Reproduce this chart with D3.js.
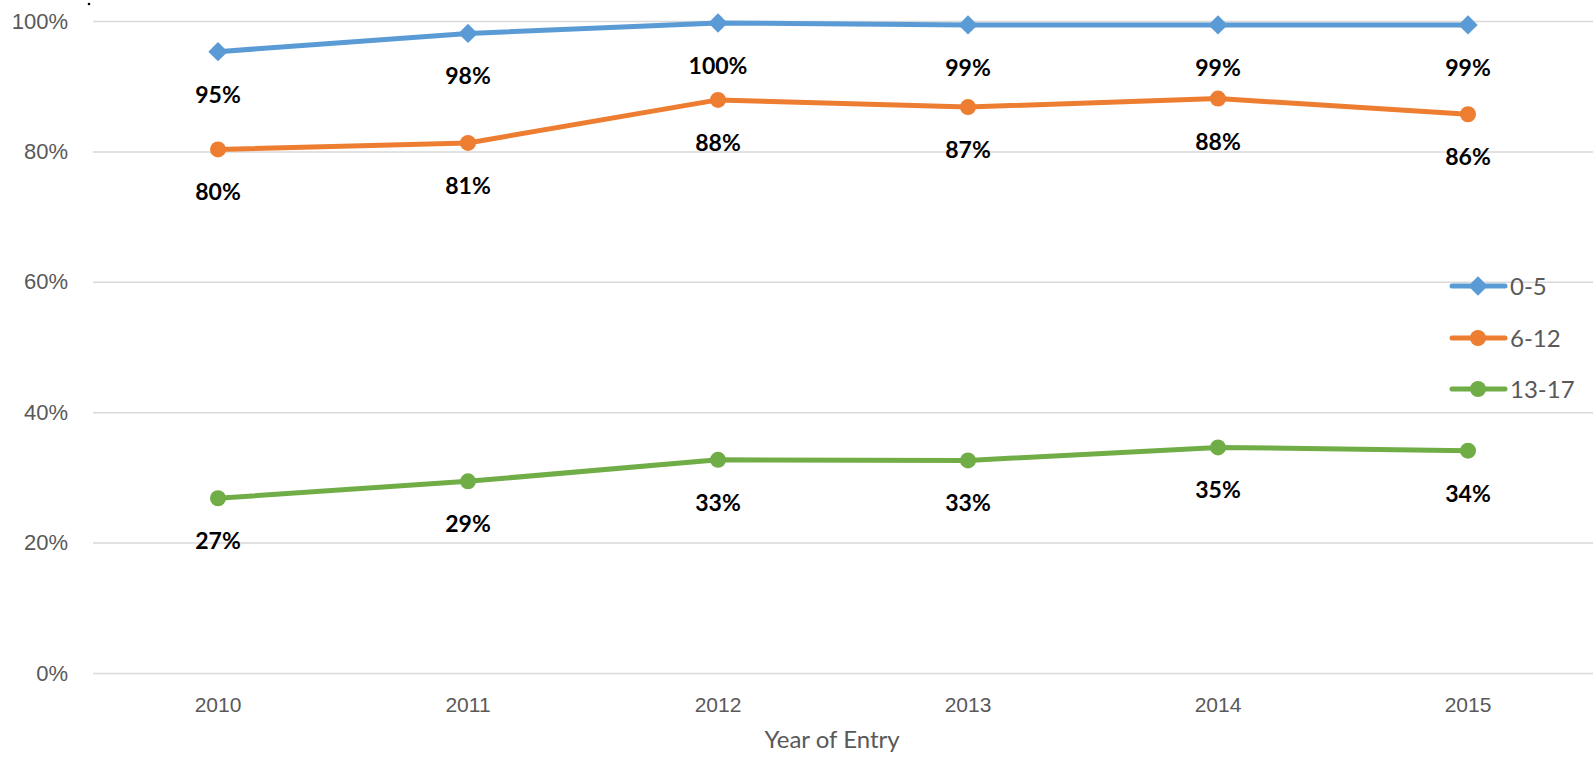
<!DOCTYPE html>
<html>
<head>
<meta charset="utf-8">
<script src="https://cdn.jsdelivr.net/npm/d3@7"></script>
<style>
  body { margin: 0; background: #fff; }
  svg { display: block; font-family: Lato, "Open Sans", sans-serif; }
</style>
</head>
<body>
<svg id="chart"></svg>
<script>
// data
const years = ["2010", "2011", "2012", "2013", "2014", "2015"];
const age0to5 = [0.953, 0.981, 0.997, 0.994, 0.994, 0.994];
const age6to12 = [0.803, 0.813, 0.879, 0.868, 0.881, 0.857];
const age13to17 = [0.268, 0.294, 0.327, 0.326, 0.346, 0.341];
const seriesNames = ["0-5", "6-12", "13-17"];
const seriesColors = ["#5B9BD5", "#ED7D31", "#70AD47"];
const yTicks = [0, 0.2, 0.4, 0.6, 0.8, 1.0];

const width = 1594, height = 761;
const margin = {top: 21, right: 1, bottom: 88, left: 93};

const svg = d3.select("#chart")
  .attr("width", width)
  .attr("height", height);

const x = d3.scaleBand()
  .domain(years)
  .range([margin.left, width - margin.right]);
const y = d3.scaleLinear()
  .domain([0, 1])
  .range([height - margin.bottom, margin.top]);

const series = [age0to5, age6to12, age13to17].map((vals, i) => ({
  name: seriesNames[i],
  color: seriesColors[i],
  values: vals.map((v, j) => ({year: years[j], value: v}))
}));

// gridlines + y labels
const yAxis = svg.append("g")
  .attr("transform", `translate(${margin.left},0)`)
  .call(d3.axisLeft(y).tickValues(yTicks).tickFormat(d3.format(".0%"))
    .tickSize(-(width - margin.left - margin.right)).tickPadding(25));
yAxis.select(".domain").remove();
yAxis.selectAll(".tick line").attr("stroke", "#d9d9d9").attr("stroke-width", 1.5);
yAxis.selectAll(".tick text")
  .attr("fill", "#595959")
  .style("font-size", "22px");

// x labels
const xAxis = svg.append("g")
  .attr("transform", `translate(0,${height - margin.bottom})`)
  .call(d3.axisBottom(x).tickSize(0).tickPadding(24));
xAxis.select(".domain").remove();
xAxis.selectAll(".tick text")
  .attr("fill", "#595959")
  .style("font-size", "21px");

svg.append("text")
  .attr("x", 832)
  .attr("y", 748)
  .attr("text-anchor", "middle")
  .attr("fill", "#595959")
  .style("font-size", "24px")
  .text("Year of Entry");

// stray dot in the top-left corner
svg.append("circle")
  .attr("cx", 89).attr("cy", 4).attr("r", 1.3).attr("fill", "#000");

const line = d3.line()
  .x(d => x(d.year) + x.bandwidth() / 2)
  .y(d => y(d.value));

const diamond = d3.symbol().type(d3.symbolDiamond2).size(240);

series.forEach((s, i) => {
  const g = svg.append("g");
  g.append("path")
    .datum(s.values)
    .attr("fill", "none")
    .attr("stroke", s.color)
    .attr("stroke-width", 5)
    .attr("stroke-linejoin", "round")
    .attr("d", line);

  const pts = g.selectAll(".pt")
    .data(s.values)
    .join("g")
    .attr("transform", d => `translate(${x(d.year) + x.bandwidth() / 2},${y(d.value)})`);
  if (i === 0) {
    pts.append("path").attr("d", diamond).attr("fill", s.color);
  } else {
    pts.append("circle").attr("r", 8).attr("fill", s.color);
  }

  g.selectAll(".lbl")
    .data(s.values)
    .join("text")
    .attr("x", d => x(d.year) + x.bandwidth() / 2)
    .attr("y", d => y(d.value) + 51)
    .attr("text-anchor", "middle")
    .attr("fill", "#000")
    .style("font-size", "23px")
    .style("font-weight", "bold")
    .text(d => Math.round(d.value * 100) + "%");
});

// legend
const legend = svg.append("g");
const legY = [286, 338, 389];
series.forEach((s, i) => {
  const lg = legend.append("g").attr("transform", `translate(0,${legY[i]})`);
  lg.append("line")
    .attr("x1", 1452).attr("x2", 1505)
    .attr("stroke", s.color).attr("stroke-width", 5)
    .attr("stroke-linecap", "round");
  if (i === 0) {
    lg.append("path").attr("d", diamond).attr("fill", s.color)
      .attr("transform", "translate(1478,0)");
  } else {
    lg.append("circle").attr("cx", 1478).attr("r", 8).attr("fill", s.color);
  }
  lg.append("text")
    .attr("x", 1510)
    .attr("dy", "0.36em")
    .attr("fill", "#595959")
    .style("font-size", "24px")
    .text(s.name);
});
</script>
</body>
</html>
